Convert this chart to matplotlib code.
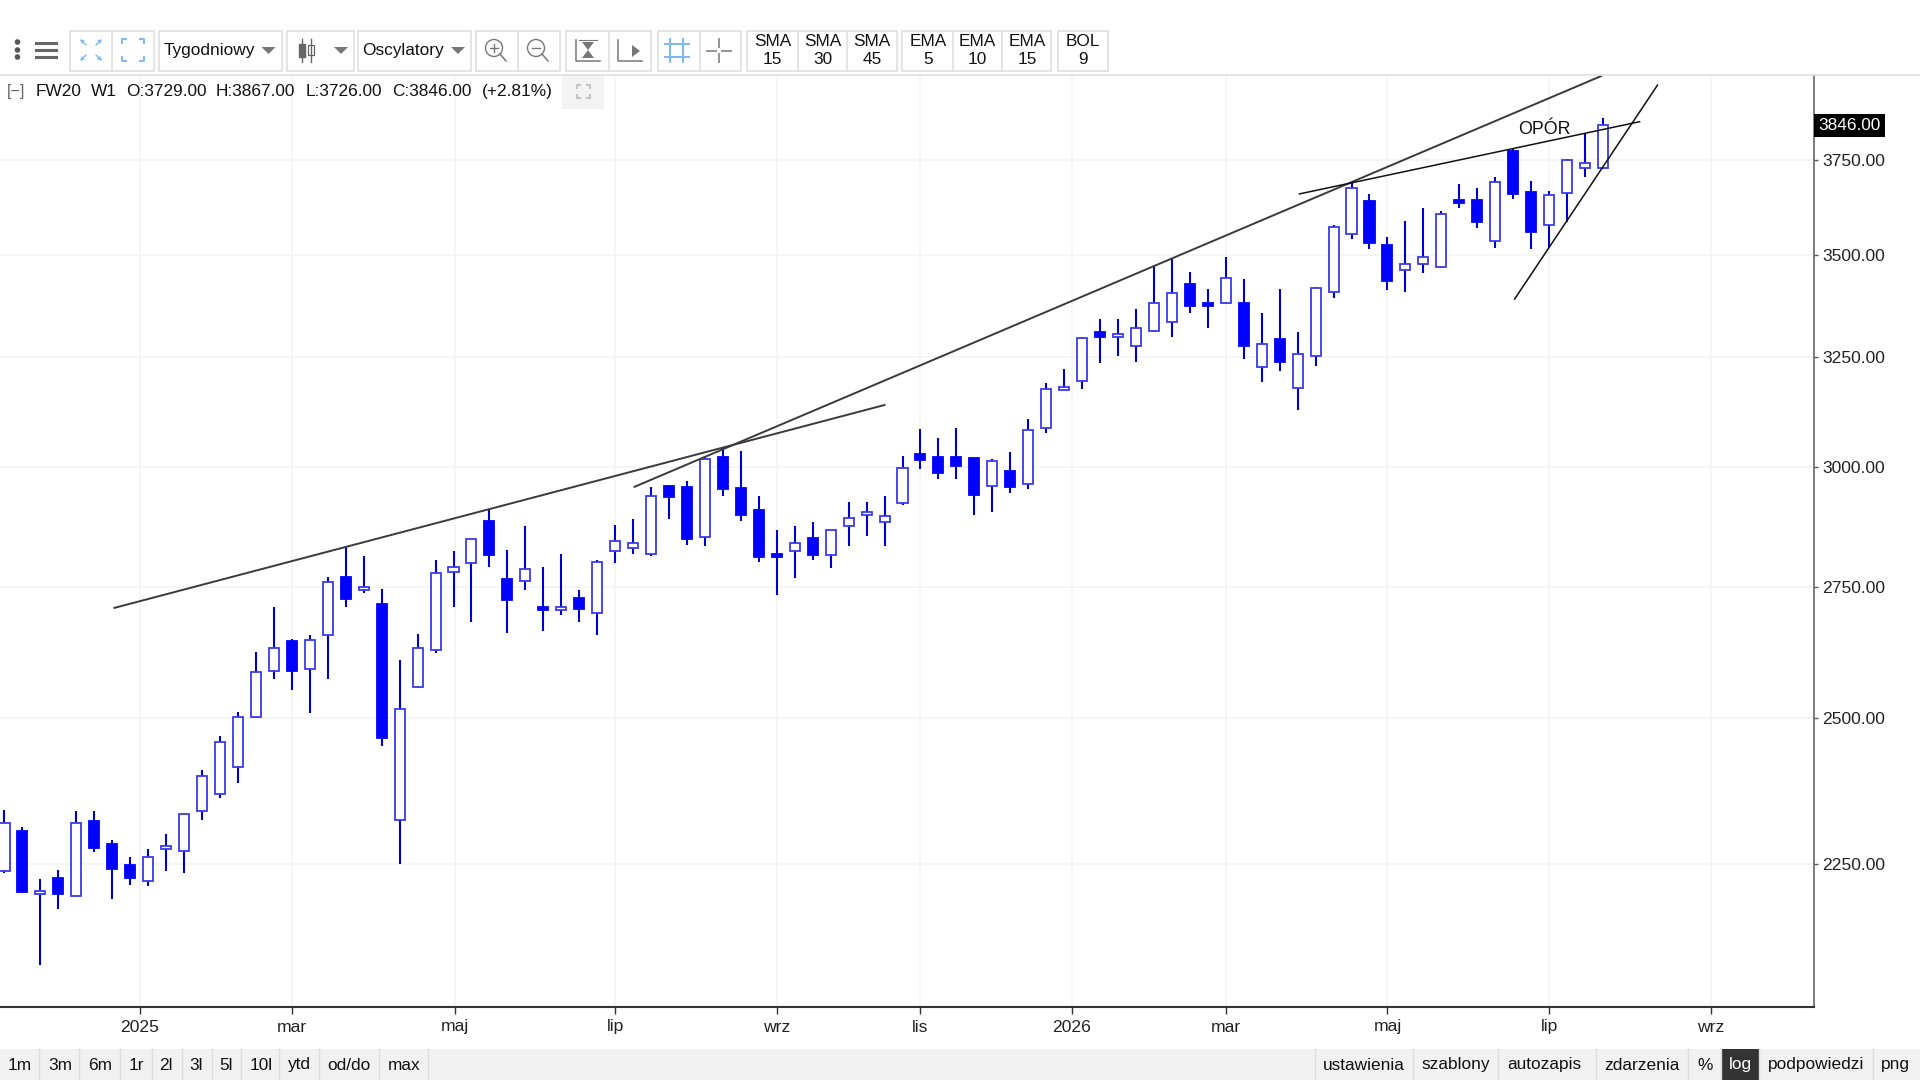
#plot.py
import matplotlib
matplotlib.use('Agg')
import matplotlib.pyplot as plt
from matplotlib.patches import Rectangle, Circle, Polygon
from matplotlib.ticker import NullLocator

plt.rcParams['font.family'] = ['Liberation Sans', 'DejaVu Sans']

# weekly candles
opens = [2238, 2304, 2201, 2227, 2198, 2321, 2282, 2247, 2222, 2274,
         2271, 2338, 2367, 2414, 2502, 2587, 2644, 2592, 2656, 2770,
         2744, 2717, 2323, 2558, 2627, 2780, 2799, 2886, 2766, 2762,
         2711, 2705, 2729, 2699, 2823, 2829, 2817, 2960, 2958, 2852,
         3023, 2956, 2909, 2817, 2823, 2850, 2815, 2875, 2898, 2884,
         2924, 3030, 3023, 3023, 3021, 2960, 2992, 2964, 3088, 3173,
         3194, 3310, 3298, 3277, 3313, 3334, 3427, 3380, 3380, 3380,
         3226, 3293, 3178, 3252, 3407, 3555, 3639, 3526, 3463, 3478,
         3470, 3644, 3644, 3537, 3775, 3664, 3578, 3661, 3728, 3729]
highs = [2339, 2311, 2225, 2239, 2338, 2338, 2289, 2261, 2274, 2299,
         2334, 2409, 2469, 2512, 2623, 2711, 2648, 2656, 2770, 2831,
         2813, 2746, 2608, 2658, 2805, 2823, 2848, 2911, 2825, 2875,
         2790, 2817, 2744, 2805, 2877, 2890, 2958, 2962, 2971, 3023,
         3043, 3036, 2939, 2867, 2875, 2884, 2867, 2926, 2926, 2939,
         3025, 3085, 3065, 3088, 3021, 3018, 3034, 3108, 3189, 3222,
         3298, 3342, 3342, 3366, 3475, 3490, 3457, 3415, 3495, 3440,
         3356, 3415, 3310, 3420, 3578, 3691, 3659, 3547, 3589, 3621,
         3615, 3686, 3675, 3704, 3780, 3693, 3667, 3753, 3824, 3867]
lows = [2235, 2203, 2090, 2177, 2198, 2269, 2193, 2215, 2214, 2238,
        2235, 2323, 2360, 2386, 2500, 2573, 2553, 2510, 2573, 2711,
        2738, 2450, 2250, 2555, 2621, 2711, 2682, 2790, 2660, 2744,
        2664, 2695, 2682, 2656, 2799, 2817, 2813, 2890, 2835, 2833,
        2939, 2886, 2801, 2734, 2768, 2805, 2788, 2833, 2854, 2833,
        2920, 2996, 2975, 2975, 2898, 2905, 2945, 2953, 3076, 3173,
        3175, 3236, 3252, 3238, 3310, 3298, 3356, 3320, 3378, 3245,
        3191, 3217, 3128, 3229, 3392, 3542, 3516, 3412, 3407, 3455,
        3467, 3621, 3569, 3519, 3646, 3516, 3519, 3584, 3704, 3726]
closes = [2318, 2204, 2206, 2201, 2318, 2276, 2241, 2227, 2261, 2279,
          2333, 2397, 2458, 2502, 2586, 2631, 2588, 2646, 2760, 2727,
          2750, 2464, 2517, 2631, 2778, 2790, 2848, 2815, 2725, 2786,
          2705, 2711, 2707, 2801, 2844, 2840, 2939, 2936, 2848, 3018,
          2953, 2898, 2811, 2811, 2840, 2815, 2867, 2892, 2905, 2896,
          2998, 3016, 2988, 3003, 2941, 3014, 2958, 3083, 3175, 3180,
          3296, 3298, 3305, 3320, 3380, 3405, 3373, 3373, 3442, 3277,
          3282, 3238, 3257, 3417, 3573, 3675, 3531, 3435, 3478, 3495,
          3605, 3636, 3584, 3691, 3659, 3560, 3656, 3750, 3742, 3846]

price_ticks = [2250, 2500, 2750, 3000, 3250, 3500, 3750]
month_ticks = [7.53, 16.02, 25.07, 34.0, 43.0, 51.0, 59.44, 68.0, 77.0, 86.0, 95.0]
month_labels = ['2025', 'mar', 'maj', 'lip', 'wrz', 'lis', '2026', 'mar', 'maj', 'lip', 'wrz']

# hand drawn trend lines: (week, price) at both ends
trend_dark = [([6.12, 49.0], [2709, 3139]), ([35.08, 88.9], [2958, 3986])]
trend_black = [([72.1, 91.04], [3659, 3856]), ([84.08, 92.04], [3390, 3960])]

fig = plt.figure(figsize=(19.2, 10.8), dpi=100)
ax = fig.add_axes([0, 73/1080, 1814/1920, 932/1080])
ax.set_yscale('log')
ax.set_xlim(-0.25, 100.75)
ax.set_ylim(2027.4, 3989)
ax.yaxis.set_minor_locator(NullLocator())
ax.set_yticks(price_ticks, ['%.2f' % p for p in price_ticks])
ax.set_xticks(month_ticks, month_labels)
ax.yaxis.tick_right()
ax.tick_params(axis='y', length=3, width=1, color='#555555', labelsize=12.6, labelcolor='#222222', pad=3)
ax.tick_params(axis='x', length=5, width=1, color='#333333', labelsize=12.6, labelcolor='#222222', pad=4)
for lab in ax.get_yticklabels():
    lab.set_verticalalignment('center_baseline')
ax.grid(True, color='#f4f4f6', linewidth=1.2)
ax.set_axisbelow(True)
for side in ['top', 'left']:
    ax.spines[side].set_visible(False)
ax.spines['right'].set_color('#666666')
ax.spines['right'].set_linewidth(1.2)
ax.spines['bottom'].set_color('#333333')
ax.spines['bottom'].set_linewidth(1.5)

weeks = list(range(len(opens)))
ax.vlines(weeks, lows, highs, color='#0000cc', linewidth=1.5, zorder=2)
for w, o, c in zip(weeks, opens, closes):
    if c >= o:
        ax.bar(w, c - o, bottom=o, width=0.56, facecolor='white', edgecolor='#3a3aee', linewidth=1.3, zorder=3)
    else:
        ax.bar(w, o - c, bottom=c, width=0.56, facecolor='#0000ff', edgecolor='#0000ff', linewidth=1.3, zorder=3)

for xs, ys in trend_dark:
    ax.plot(xs, ys, color='#3a3a3a', linewidth=1.4, zorder=4)
for xs, ys in trend_black:
    ax.plot(xs, ys, color='#111111', linewidth=1.1, zorder=4)
ax.text(85.75, 3833, 'OPÓR', fontsize=12.8, color='#111111', ha='center', va='center', zorder=5)

ax.annotate('%.2f' % closes[-1], xy=(1, closes[-1]), xycoords=ax.get_yaxis_transform(),
            xytext=(3, 0), textcoords='offset points', va='center', ha='left', color='white',
            fontsize=12.4, bbox=dict(facecolor='black', edgecolor='none', pad=3), zorder=6)

# toolbars, in pixels of the screenshot
ui = fig.add_axes([0, 0, 1, 1], facecolor='none')
ui.set_xlim(0, 1920)
ui.set_ylim(1080, 0)
ui.axis('off')

BORDER = '#dcdcdc'
BLUE = '#7db8f2'
GRAY = '#8a8a8a'
TXT = '#111111'


def box(x0, x1, dividers=()):
    ui.add_patch(Rectangle((x0, 30.5), x1 - x0, 40, facecolor='white', edgecolor=BORDER, linewidth=1.1))
    for d in dividers:
        ui.plot([d, d], [30.5, 70.5], color=BORDER, linewidth=1.1)


def label(x, y, s, ha='center', size=12.4, color=TXT):
    ui.text(x, y, s, ha=ha, va='center', fontsize=size, color=color)


def arrow_down(x, y):
    ui.add_patch(Polygon([(x - 7, y - 3), (x + 7, y - 3), (x, y + 4)], facecolor='#777777', edgecolor='none'))


def corners(cx, cy, r, gap, color, lw=1.4):
    for sx in [-1, 1]:
        for sy in [-1, 1]:
            ui.plot([cx + sx * r, cx + sx * r, cx + sx * (r - gap)],
                    [cy + sy * (r - gap), cy + sy * r, cy + sy * r], color=color, linewidth=lw)


def magnifier(cx, cy, sign):
    ui.add_patch(Circle((cx, cy - 2), 8.5, facecolor='none', edgecolor='#777777', linewidth=1.0))
    ui.plot([cx + 6, cx + 12], [cy + 4, cy + 11], color='#777777', linewidth=1.1)
    ui.plot([cx - 4, cx + 4], [cy - 2, cy - 2], color='#777777', linewidth=1.0)
    if sign == '+':
        ui.plot([cx, cx], [cy - 6, cy + 2], color='#777777', linewidth=1.0)


ui.plot([0, 1920], [75, 75], color='#dfdfdf', linewidth=1.2)
for y in [42, 50, 57]:
    ui.add_patch(Circle((17.5, y), 2.8, facecolor='#555555', edgecolor='none'))
for y in [43, 50, 57]:
    ui.plot([35.5, 56], [y, y], color='#666666', linewidth=2.2)

box(70, 154, [112])
for sx in [-1, 1]:
    for sy in [-1, 1]:
        ui.annotate('', xy=(91 + sx * 11, 50 + sy * 11), xytext=(91 + sx * 5, 50 + sy * 5),
                    arrowprops=dict(arrowstyle='->', color=BLUE, linewidth=1.0, mutation_scale=5,
                                    shrinkA=0, shrinkB=0))
corners(133, 50, 11, 4, BLUE)

box(159, 282)
label(164, 50, 'Tygodniowy', ha='left')
arrow_down(268.5, 50)

box(286.5, 353.5)
ui.plot([302, 302], [39, 62], color='#666666', linewidth=1.0)
ui.plot([311, 311], [39, 62], color='#666666', linewidth=1.0)
ui.add_patch(Rectangle((299, 44), 6, 13, facecolor='#666666', edgecolor='#666666'))
ui.add_patch(Rectangle((308, 45), 6, 10, facecolor='white', edgecolor='#666666', linewidth=0.9))
arrow_down(341, 50)

box(358, 470.5)
label(362, 50, 'Oscylatory', ha='left')
arrow_down(458, 50)

box(476, 560, [518])
magnifier(494, 50, '+')
magnifier(536, 50, '-')

box(566, 651, [609])
ui.plot([576, 576, 600], [40, 61, 61], color='#777777', linewidth=1.1)
ui.plot([579, 597], [40, 40], color='#777777', linewidth=0.8)
ui.add_patch(Polygon([(582, 42), (594, 42), (588, 50)], facecolor='#777777', edgecolor='none'))
ui.add_patch(Polygon([(582, 58), (594, 58), (588, 50)], facecolor='#777777', edgecolor='none'))
ui.plot([618, 618, 642], [40, 61, 61], color='#777777', linewidth=1.1)
ui.add_patch(Polygon([(632, 45), (632, 57), (640, 51)], facecolor='#777777', edgecolor='none'))

box(657.5, 741, [699.6])
for p in [670, 683]:
    ui.plot([p, p], [39, 62], color=BLUE, linewidth=1.4)
for p in [44, 57]:
    ui.plot([665, 689], [p, p], color=BLUE, linewidth=1.4)
ui.plot([707, 716], [50.5, 50.5], color=GRAY, linewidth=1.3)
ui.plot([722, 731], [50.5, 50.5], color=GRAY, linewidth=1.3)
ui.plot([719, 719], [39, 47], color=GRAY, linewidth=1.3)
ui.plot([719, 719], [54, 62], color=GRAY, linewidth=1.3)

box(747, 897, [797.5, 847])
box(902, 1051.4, [952.6, 1002.4])
box(1057.5, 1108)
for x, top, num in [(772.6, 'SMA', '15'), (822.4, 'SMA', '30'), (872, 'SMA', '45'),
                    (927.8, 'EMA', '5'), (977.5, 'EMA', '10'), (1027.3, 'EMA', '15'),
                    (1083, 'BOL', '9')]:
    label(x, 41, top)
    label(x, 60, num)

# legend row above the chart
label(16, 91.5, '[−]', color='#666666', size=11.5)
for x, s in [(35.5, 'FW20'), (90.6, 'W1'), (125.7, 'O:3729.00'), (216, 'H:3867.00'),
             (306, 'L:3726.00'), (392.6, 'C:3846.00'), (481.6, '(+2.81%)')]:
    label(x, 91.5, s, ha='left')
ui.add_patch(Rectangle((562, 76), 42, 32.5, facecolor='#f3f3f3', edgecolor='none'))
corners(583, 91, 6.5, 3, '#c4c4c4', lw=1.5)

# bottom bar
ui.add_patch(Rectangle((0, 1049), 1920, 31, facecolor='#f1f1f1', edgecolor='none'))
for d in [39, 79, 120, 152, 182, 212, 241, 279, 319, 379, 428, 1314.6, 1413, 1498, 1596, 1688, 1721, 1759, 1872.7]:
    ui.plot([d, d], [1049, 1080], color='#dcdcdc', linewidth=1.0)
for x, s in [(20, '1m'), (60, '3m'), (100, '6m'), (136, '1r'), (166, '2l'), (196, '3l'), (226, '5l'),
             (261, '10l'), (299, 'ytd'), (349, 'od/do'), (404, 'max'), (1364, 'ustawienia'),
             (1456, 'szablony'), (1544, 'autozapis'), (1642, 'zdarzenia'), (1705, '%'),
             (1816, 'podpowiedzi'), (1895, 'png')]:
    label(x, 1065, s)
ui.add_patch(Rectangle((1721, 1049), 38, 31, facecolor='#333333', edgecolor='none'))
label(1740, 1065, 'log', color='white')

plt.savefig('out.png', dpi=100)
